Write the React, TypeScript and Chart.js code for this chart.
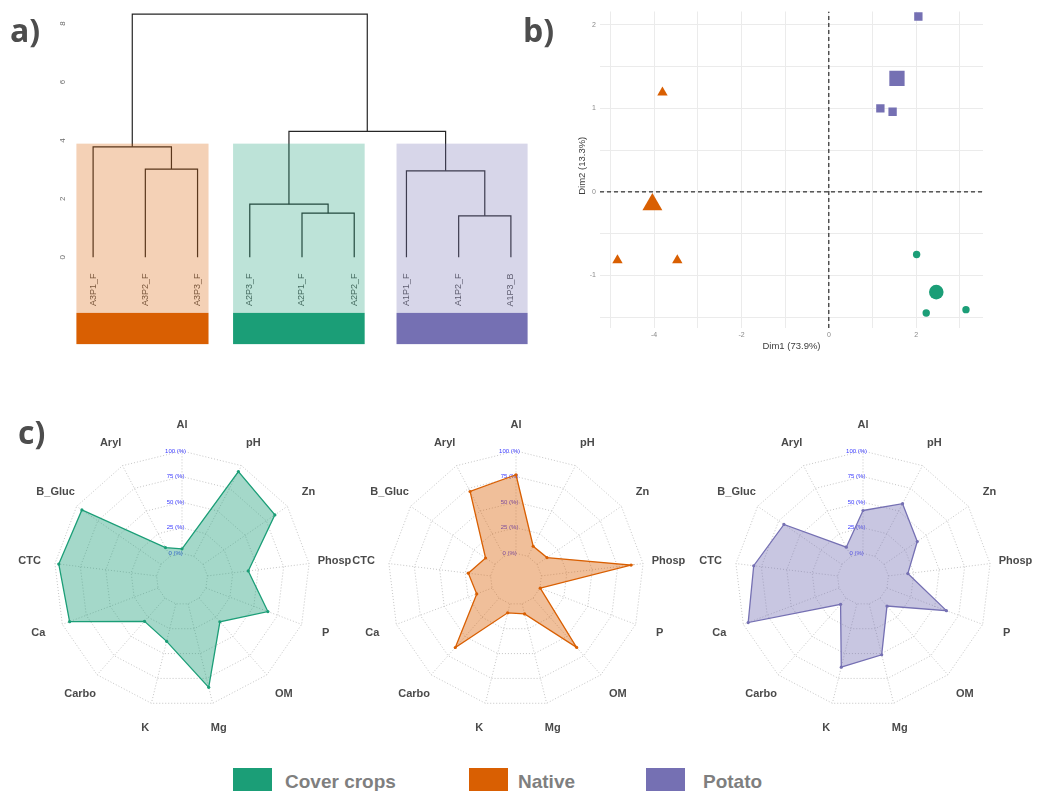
import React, { useEffect, useRef } from 'react';
import { Chart, registerables } from 'chart.js';

Chart.register(...registerables);

// ---------------- Panel a: dendrogram ----------------
const leafLabels = ['A3P1_F', 'A3P2_F', 'A3P3_F', 'A2P3_F', 'A2P1_F', 'A2P2_F', 'A1P1_F', 'A1P2_F', 'A1P3_B'];
// hclust-style merge table (negative = leaf position, positive = earlier merge)
const mergeLeft = [-2, -1, -5, -4, -8, -7, 4, 2];
const mergeRight = [-3, 1, -6, 3, -9, 5, 6, 7];
const mergeHeight = [3.02, 3.78, 1.51, 1.82, 1.42, 2.96, 4.31, 8.32];
const dendroTicks = [0, 2, 4, 6, 8];
const clusterColors = ['#D95F02', '#1B9E77', '#7570B3'];
const clusterStart = [0.68, 3.68, 6.81];
const clusterEnd = [3.21, 6.2, 9.32];
const clusterTop = 3.89;
const clusterLabelBottom = -1.9;
const clusterBarBottom = -2.97;
const leafLabelEnd = -0.55;

// ---------------- Panel b: PCA ----------------
const coverX = [2.01, 2.23, 3.14];
const coverY = [-0.75, -1.45, -1.41];
const nativeX = [-3.81, -4.84, -3.47];
const nativeY = [1.19, -0.82, -0.82];
const potatoX = [2.05, 1.18, 1.46];
const potatoY = [2.1, 1.0, 0.96];
const centroidX = [2.46, -4.04, 1.56];
const centroidY = [-1.2, -0.15, 1.36];
const pcaXRange = [-5.24, 3.53];
const pcaYRange = [-1.63, 2.16];
const pcaXGrid = [-5, -4, -3, -2, -1, 0, 1, 2, 3];
const pcaXLabels = [-4, -2, 0, 2];
const pcaYGrid = [-1.5, -1, -0.5, 0, 0.5, 1, 1.5, 2];
const pcaYLabels = [-1, 0, 1, 2];
const dim1Title = 'Dim1 (73.9%)';
const dim2Title = 'Dim2 (13.3%)';

// ---------------- Panel c: radar ----------------
const radarAxes = ['Al', 'pH', 'Zn', 'Phosp', 'P', 'OM', 'Mg', 'K', 'Carbo', 'Ca', 'CTC', 'B_Gluc', 'Aryl'];
const coverValues = [4.5, 93.5, 85.2, 40.2, 64.7, 30.8, 84.0, 37.7, 30.2, 92.4, 96.2, 93.8, 9.7];
const nativeValues = [76.8, 11.1, 11.8, 88.2, 0.3, 64.2, 10.1, 9.0, 64.4, 16.0, 21.9, 11.1, 71.5];
const potatoValues = [41.9, 58.1, 39.4, 19.1, 62.1, 10.3, 51.2, 63.7, 8.0, 94.9, 82.5, 68.8, 10.1];
const radarTicks = [0, 25, 50, 75, 100];
const groupNames = ['Cover crops', 'Native', 'Potato'];
const groupColors = ['#1B9E77', '#D95F02', '#7570B3'];

function hexToRgba(hex: string, a: number) {
  const n = parseInt(hex.slice(1), 16);
  return `rgba(${(n >> 16) & 255},${(n >> 8) & 255},${n & 255},${a})`;
}

function nodePos(ref: number): { x: number; h: number } {
  if (ref < 0) return { x: -ref, h: 0 };
  const i = ref - 1;
  const a = nodePos(mergeLeft[i]);
  const b = nodePos(mergeRight[i]);
  return { x: (a.x + b.x) / 2, h: mergeHeight[i] };
}

function dendroConfig(): any {
  const datasets = mergeHeight.map((h, i) => {
    const a = nodePos(mergeLeft[i]);
    const b = nodePos(mergeRight[i]);
    return {
      data: [
        { x: a.x, y: a.h },
        { x: a.x, y: h },
        { x: b.x, y: h },
        { x: b.x, y: b.h },
      ],
      showLine: true,
      borderColor: '#262626',
      borderWidth: 1.2,
      pointRadius: 0,
      fill: false,
      tension: 0,
    };
  });
  const plugin = {
    id: 'dendroDecor',
    afterDatasetsDraw(chart: any) {
      const { ctx } = chart;
      const x = chart.scales.x;
      const y = chart.scales.y;
      ctx.save();
      // leaf labels
      ctx.fillStyle = '#555555';
      ctx.font = '9px "Liberation Sans"';
      ctx.textAlign = 'right';
      ctx.textBaseline = 'middle';
      leafLabels.forEach((lab, i) => {
        ctx.save();
        ctx.translate(x.getPixelForValue(i + 1), y.getPixelForValue(leafLabelEnd));
        ctx.rotate(-Math.PI / 2);
        ctx.fillText(lab, 0, 0);
        ctx.restore();
      });
      // cluster rectangles
      clusterColors.forEach((c, i) => {
        const x0 = x.getPixelForValue(clusterStart[i]);
        const x1 = x.getPixelForValue(clusterEnd[i]);
        const yt = y.getPixelForValue(clusterTop);
        const ym = y.getPixelForValue(clusterLabelBottom);
        const yb = y.getPixelForValue(clusterBarBottom);
        ctx.fillStyle = hexToRgba(c, 0.29);
        ctx.fillRect(x0, yt, x1 - x0, ym - yt);
        ctx.fillStyle = c;
        ctx.fillRect(x0, ym, x1 - x0, yb - ym);
      });
      // y tick labels (rotated)
      ctx.fillStyle = '#6b6b6b';
      ctx.font = '8px "Liberation Sans"';
      ctx.textAlign = 'center';
      dendroTicks.forEach((t) => {
        ctx.save();
        ctx.translate(chart.chartArea.left - 4, y.getPixelForValue(t));
        ctx.rotate(-Math.PI / 2);
        ctx.fillText(String(t), 0, 0);
        ctx.restore();
      });
      ctx.restore();
    },
  };
  return {
    type: 'scatter',
    data: { datasets },
    options: {
      responsive: false,
      animation: false,
      layout: { padding: { left: 67, right: 3, top: 6, bottom: 15 } },
      plugins: { legend: { display: false }, tooltip: { enabled: false } },
      scales: {
        x: { type: 'linear', min: 0.5, max: 9.5, display: false },
        y: { type: 'linear', min: -3, max: 8.6, display: false },
      },
    },
    plugins: [plugin],
  };
}

function pcaConfig(): any {
  const pts = (xs: number[], ys: number[]) => xs.map((v, i) => ({ x: v, y: ys[i] }));
  const ptDs = (data: any[], style: string, r: number, color: string) => ({
    data,
    pointStyle: style,
    pointRadius: r,
    pointHoverRadius: r,
    pointBackgroundColor: color,
    pointBorderColor: color,
    pointBorderWidth: 0,
    showLine: false,
  });
  const datasets = [
    ptDs(pts(coverX, coverY), 'circle', 3.7, groupColors[0]),
    ptDs([{ x: centroidX[0], y: centroidY[0] }], 'circle', 7.3, groupColors[0]),
    ptDs(pts(nativeX, nativeY), 'triangle', 6, groupColors[1]),
    ptDs([{ x: centroidX[1], y: centroidY[1] }], 'triangle', 11.5, groupColors[1]),
    ptDs(pts(potatoX, potatoY), 'rect', 5.9, groupColors[2]),
    ptDs([{ x: centroidX[2], y: centroidY[2] }], 'rect', 10.8, groupColors[2]),
    {
      data: [{ x: pcaXRange[0], y: 0 }, { x: pcaXRange[1], y: 0 }],
      showLine: true,
      borderColor: '#000',
      borderWidth: 1,
      borderDash: [4, 3],
      pointRadius: 0,
    },
    {
      data: [{ x: 0, y: pcaYRange[0] }, { x: 0, y: pcaYRange[1] }],
      showLine: true,
      borderColor: '#000',
      borderWidth: 1,
      borderDash: [4, 3],
      pointRadius: 0,
    },
  ];
  const plugin = {
    id: 'pcaText',
    afterDraw(chart: any) {
      const { ctx, chartArea } = chart;
      const x = chart.scales.x;
      const y = chart.scales.y;
      ctx.save();
      ctx.fillStyle = '#8a8a8a';
      ctx.font = '7px "Liberation Sans"';
      ctx.textAlign = 'center';
      ctx.textBaseline = 'middle';
      pcaXLabels.forEach((v) => ctx.fillText(String(v), x.getPixelForValue(v), chartArea.bottom + 7));
      ctx.textAlign = 'right';
      pcaYLabels.forEach((v) => ctx.fillText(String(v), chartArea.left - 4, y.getPixelForValue(v)));
      ctx.fillStyle = '#3d3d3d';
      ctx.font = '9.5px "Liberation Sans"';
      ctx.textAlign = 'center';
      ctx.fillText(dim1Title, (chartArea.left + chartArea.right) / 2, chartArea.bottom + 18);
      ctx.translate(chartArea.left - 18, (chartArea.top + chartArea.bottom) / 2 - 4);
      ctx.rotate(-Math.PI / 2);
      ctx.fillText(dim2Title, 0, 0);
      ctx.restore();
    },
  };
  const gridOpts = { color: '#ebebeb', lineWidth: 1, drawTicks: false };
  return {
    type: 'scatter',
    data: { datasets },
    options: {
      responsive: false,
      animation: false,
      layout: { padding: { left: 80, right: 55, top: 10, bottom: 32 } },
      plugins: { legend: { display: false }, tooltip: { enabled: false } },
      scales: {
        x: {
          type: 'linear',
          min: pcaXRange[0],
          max: pcaXRange[1],
          grid: gridOpts,
          border: { display: false },
          ticks: { display: false },
          afterBuildTicks: (s: any) => {
            s.ticks = pcaXGrid.map((v) => ({ value: v }));
          },
        },
        y: {
          type: 'linear',
          min: pcaYRange[0],
          max: pcaYRange[1],
          grid: gridOpts,
          border: { display: false },
          ticks: { display: false },
          afterBuildTicks: (s: any) => {
            s.ticks = pcaYGrid.map((v) => ({ value: v }));
          },
        },
      },
    },
    plugins: [plugin],
  };
}

function radarConfig(values: number[], color: string): any {
  const gridColor = 'rgba(150,150,150,0.55)';
  const plugin = {
    id: 'radarDecor',
    beforeDatasetsDraw(chart: any) {
      const s = chart.scales.r;
      const ctx = chart.ctx;
      ctx.save();
      ctx.strokeStyle = gridColor;
      ctx.lineWidth = 1;
      ctx.setLineDash([1, 2]);
      radarAxes.forEach((_, i) => {
        const a = s.getPointPositionForValue(i, 0);
        const b = s.getPointPositionForValue(i, 100);
        ctx.beginPath();
        ctx.moveTo(a.x, a.y);
        ctx.lineTo(b.x, b.y);
        ctx.stroke();
      });
      ctx.setLineDash([]);
      ctx.fillStyle = '#3b3bff';
      ctx.font = '6px "Liberation Sans"';
      ctx.textAlign = 'center';
      ctx.textBaseline = 'middle';
      radarTicks.forEach((v) => {
        ctx.fillText(`${v} (%)`, s.xCenter - 0.05 * s.drawingArea, s.yCenter - s.getDistanceFromCenterForValue(v));
      });
      ctx.restore();
    },
    afterDatasetsDraw(chart: any) {
      const s = chart.scales.r;
      const ctx = chart.ctx;
      ctx.save();
      ctx.fillStyle = '#4a4a4a';
      ctx.font = 'bold 11px "Liberation Sans"';
      ctx.textAlign = 'center';
      ctx.textBaseline = 'middle';
      radarAxes.forEach((lab, i) => {
        const p = s.getPointPosition(i, s.drawingArea * 1.2);
        ctx.fillText(lab, p.x, p.y);
      });
      ctx.restore();
    },
  };
  return {
    type: 'radar',
    data: {
      labels: radarAxes,
      datasets: [
        {
          data: values,
          backgroundColor: hexToRgba(color, 0.4),
          borderColor: color,
          borderWidth: 1.3,
          fill: 'start',
          pointRadius: 1.6,
          pointHoverRadius: 1.6,
          pointBackgroundColor: color,
          pointBorderWidth: 0,
          tension: 0,
        },
      ],
    },
    options: {
      responsive: false,
      animation: false,
      layout: { padding: 47 },
      plugins: { legend: { display: false }, tooltip: { enabled: false } },
      scales: {
        r: {
          min: -25,
          max: 100,
          ticks: { display: false, stepSize: 25 },
          pointLabels: { display: false },
          angleLines: { display: false },
          grid: { color: gridColor, lineWidth: 1 },
          border: { dash: [1, 2] },
        },
      },
    },
    plugins: [plugin],
  };
}

function ChartCanvas(props: { left: number; top: number; width: number; height: number; make: () => any }) {
  const ref = useRef<HTMLCanvasElement>(null);
  useEffect(() => {
    const chart = new Chart(ref.current as HTMLCanvasElement, props.make());
    return () => chart.destroy();
  }, []);
  return (
    <canvas
      ref={ref}
      width={props.width}
      height={props.height}
      style={{ position: 'absolute', left: props.left, top: props.top, width: props.width, height: props.height }}
    />
  );
}

const panelLabelStyle: React.CSSProperties = {
  position: 'absolute',
  font: 'bold 32px "Open Sans"',
  lineHeight: '32px',
  color: '#4d4d4d',
  whiteSpace: 'nowrap',
};

const legendX = [233, 469, 646];
const legendTextX = [285, 518, 703];

export default function App() {
  const radarCenters = [181.5, 516, 862.5];
  const radarValues = [coverValues, nativeValues, potatoValues];
  return (
    <div
      style={{
        position: 'fixed',
        left: 0,
        top: 0,
        width: 1038,
        height: 791,
        overflow: 'hidden',
        background: '#ffffff',
      }}
    >
      <ChartCanvas left={0} top={0} width={540} height={360} make={dendroConfig} />
      <ChartCanvas left={520} top={0} width={518} height={360} make={pcaConfig} />
      {radarValues.map((vals, i) => (
        <ChartCanvas
          key={i}
          left={radarCenters[i] - 175}
          top={578.5 - 175}
          width={350}
          height={350}
          make={() => radarConfig(vals, groupColors[i])}
        />
      ))}
      <div style={{ ...panelLabelStyle, left: 10, top: 14 }}>a)</div>
      <div style={{ ...panelLabelStyle, left: 523, top: 14 }}>b)</div>
      <div style={{ ...panelLabelStyle, left: 18, top: 416 }}>c)</div>
      {groupNames.map((g, i) => (
        <React.Fragment key={g}>
          <div
            style={{
              position: 'absolute',
              left: legendX[i],
              top: 768,
              width: 39,
              height: 30,
              background: groupColors[i],
            }}
          />
          <div
            style={{
              position: 'absolute',
              left: legendTextX[i],
              top: 772,
              font: 'bold 19px "Liberation Sans"',
              lineHeight: '19px',
              color: '#7f7f7f',
              whiteSpace: 'nowrap',
            }}
          >
            {g}
          </div>
        </React.Fragment>
      ))}
    </div>
  );
}
